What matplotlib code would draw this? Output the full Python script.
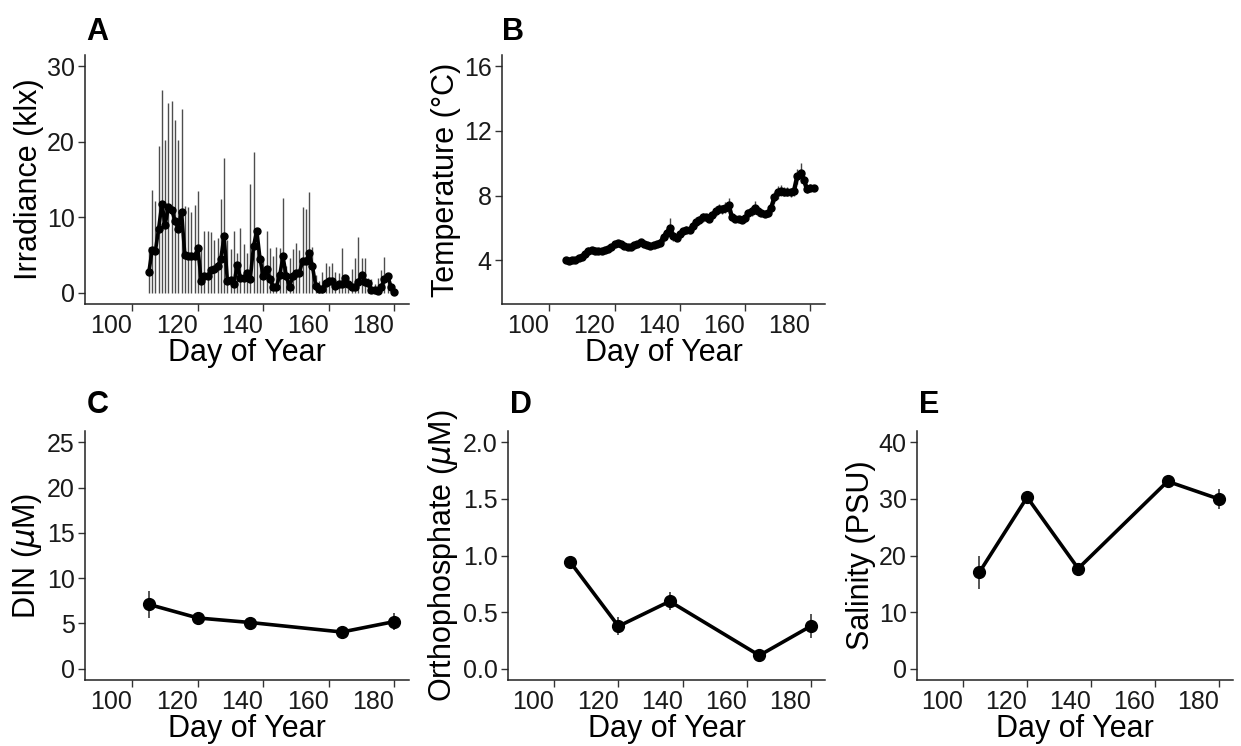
import numpy as np
import matplotlib
matplotlib.use("Agg")
import matplotlib.pyplot as plt

plt.rcParams['font.family'] = ['Liberation Sans', 'DejaVu Sans']
plt.rcParams['mathtext.fontset'] = 'dejavusans'

# irradiance, daily mean and daily max (klx)
irrDays = list(range(105, 181))
irrMean = [2.7, 5.6, 5.5, 8.5, 11.8, 9.0, 11.4, 11.0, 9.5, 8.5,
           10.7, 5.0, 4.8, 4.8, 4.8, 5.9, 1.6, 2.2, 2.2, 3.0,
           3.2, 3.5, 4.5, 7.5, 1.6, 1.7, 1.1, 3.7, 2.0, 1.9,
           2.6, 1.8, 6.2, 8.2, 4.4, 2.2, 3.1, 1.8, 0.8, 0.8,
           2.3, 4.8, 2.2, 0.8, 2.2, 2.6, 2.6, 4.2, 4.2, 5.2,
           3.5, 0.9, 0.5, 0.5, 1.3, 1.5, 1.5, 0.9, 1.1, 1.1,
           2.0, 1.1, 0.8, 0.8, 1.4, 2.4, 1.4, 1.3, 0.4, 0.4,
           0.2, 0.7, 1.8, 2.2, 0.8, 0.1]
irrMax = [6.1, 13.6, 12.1, 19.4, 26.8, 20.3, 25.2, 25.4, 22.9, 20.2,
          24.4, 11.5, 11.3, 10.7, 11.6, 13.5, 5.9, 8.2, 8.2, 8.0,
          7.0, 7.2, 12.4, 17.9, 7.0, 5.8, 8.2, 5.3, 8.6, 6.4,
          5.3, 14.4, 18.7, 8.6, 4.6, 4.4, 8.2, 5.9, 4.8, 6.1,
          5.9, 12.5, 3.5, 4.6, 5.8, 6.6, 5.6, 11.3, 11.1, 13.4,
          6.1, 2.3, 1.5, 2.8, 3.9, 3.5, 3.9, 2.8, 2.6, 5.9,
          2.2, 1.8, 3.1, 4.6, 7.4, 4.6, 4.6, 2.0, 1.8, 1.1,
          2.0, 3.0, 4.7, 1.8, 1.2, 0.3]

# water temperature, daily mean and sd (C)
tempDays = list(range(105, 182))
tempMean = [4.0, 3.97, 4.0, 4.05, 4.15, 4.2, 4.4, 4.6, 4.65, 4.6,
            4.6, 4.6, 4.65, 4.7, 4.8, 5.0, 5.05, 5.0, 4.9, 4.8,
            4.85, 4.95, 5.0, 5.15, 5.0, 4.95, 4.9, 4.95, 5.0, 5.1,
            5.45, 5.7, 6.0, 5.5, 5.4, 5.6, 5.8, 5.9, 5.9, 6.1,
            6.4, 6.5, 6.65, 6.65, 6.55, 6.8, 7.05, 7.2, 7.15, 7.25,
            7.4, 6.65, 6.55, 6.55, 6.5, 6.6, 6.9, 7.05, 7.25, 7.05,
            6.95, 6.85, 6.9, 7.25, 7.9, 8.2, 8.3, 8.25, 8.25, 8.2,
            8.3, 9.2, 9.4, 9.0, 8.4, 8.5, 8.5]
tempSd = [0.1, 0.1, 0.15, 0.15, 0.2, 0.2, 0.25, 0.25, 0.2, 0.2,
          0.15, 0.15, 0.15, 0.2, 0.2, 0.2, 0.15, 0.15, 0.15, 0.15,
          0.15, 0.15, 0.2, 0.2, 0.15, 0.15, 0.15, 0.15, 0.15, 0.2,
          0.3, 0.3, 0.6, 0.3, 0.2, 0.2, 0.2, 0.2, 0.2, 0.25,
          0.25, 0.25, 0.25, 0.2, 0.2, 0.25, 0.3, 0.3, 0.3, 0.35,
          0.45, 0.2, 0.15, 0.15, 0.15, 0.2, 0.25, 0.3, 0.4, 0.3,
          0.2, 0.2, 0.2, 0.3, 0.35, 0.4, 0.35, 0.3, 0.3, 0.3,
          0.3, 0.45, 0.6, 0.4, 0.25, 0.2, 0.15]

# nutrient / salinity sampling days
sampleDays = [105, 120, 136, 164, 180]
dinMean = [7.1, 5.6, 5.1, 4.05, 5.2]
dinSd = [1.5, 0.3, 0.2, 0.3, 0.9]
phosMean = [0.94, 0.375, 0.595, 0.117, 0.375]
phosSd = [0.05, 0.08, 0.08, 0.03, 0.105]
salMean = [17.0, 30.3, 17.7, 33.1, 30.0]
salSd = [3.0, 0.5, 1.0, 0.3, 1.8]

xTicks = [100, 120, 140, 160, 180]

W, H = 1241, 746


def pixelRect(left, right, top, bottom):
    return [left / W, 1 - bottom / H, (right - left) / W, (bottom - top) / H]


def styleAxes(ax, ylabel, yticks, ylim, yticklabels=None):
    for side in ['top', 'right']:
        ax.spines[side].set_visible(False)
    for side in ['left', 'bottom']:
        ax.spines[side].set_linewidth(1.1)
        ax.spines[side].set_color('#222222')
    ax.set_xlim(85.5, 184.5)
    ax.set_ylim(*ylim)
    ax.set_xticks(xTicks)
    ax.set_xticklabels([str(t) for t in xTicks], ha='right')
    ax.set_yticks(yticks)
    if yticklabels is not None:
        ax.set_yticklabels(yticklabels)
    ax.tick_params(axis='both', labelsize=18, length=5, width=1.0,
                   color='#333333', labelcolor='#1a1a1a', pad=2.5)
    ax.set_xlabel('Day of Year', fontsize=22, labelpad=0, color='black')
    ax.set_ylabel(ylabel, fontsize=22, labelpad=2, color='black')


def samplePanel(ax, mean, sd):
    ax.errorbar(sampleDays, mean, yerr=sd, fmt='none', ecolor='#555555',
                elinewidth=1.4, capsize=0, zorder=2)
    ax.plot(sampleDays, mean, color='black', lw=2.6, marker='o',
            markersize=8.5, zorder=3)


fig = plt.figure(figsize=(W / 100, H / 100), dpi=100)

# A - irradiance, bars run from 0 to the daily max
axA = fig.add_axes(pixelRect(85, 409, 55, 304))
axA.vlines(irrDays, 0, irrMax, colors='#4d4d4d', linewidth=1.0, zorder=2)
axA.plot(irrDays, irrMean, color='black', lw=2.6, marker='o',
         markersize=5, zorder=3)
styleAxes(axA, 'Irradiance (klx)', [0, 10, 20, 30], (-1.5, 31.5))

# B - temperature
axB = fig.add_axes(pixelRect(502, 825, 55, 304))
axB.errorbar(tempDays, tempMean, yerr=tempSd, fmt='none', ecolor='#444444',
             elinewidth=1.0, capsize=0, zorder=2)
axB.plot(tempDays, tempMean, color='black', lw=3.2, marker='o',
         markersize=5, zorder=3)
styleAxes(axB, 'Temperature (°C)', [4, 8, 12, 16], (1.3, 16.7))

# C - DIN
axC = fig.add_axes(pixelRect(85, 409, 431, 680))
samplePanel(axC, dinMean, dinSd)
styleAxes(axC, 'DIN ($\\mu$M)', [0, 5, 10, 15, 20, 25], (-1.25, 26.25))

# D - orthophosphate
axD = fig.add_axes(pixelRect(508, 825, 431, 680))
samplePanel(axD, phosMean, phosSd)
styleAxes(axD, 'Orthophosphate ($\\mu$M)', [0, 0.5, 1.0, 1.5, 2.0],
          (-0.1, 2.1), ['0.0', '0.5', '1.0', '1.5', '2.0'])

# E - salinity
axE = fig.add_axes(pixelRect(917, 1233, 431, 680))
samplePanel(axE, salMean, salSd)
styleAxes(axE, 'Salinity (PSU)', [0, 10, 20, 30, 40], (-2, 42))

panelLetters = [('A', 86, 32), ('B', 502, 32), ('C', 87, 405),
                ('D', 510, 405), ('E', 919, 405)]
for letter, px, py in panelLetters:
    fig.text(px / W, 1 - py / H, letter, fontsize=22, fontweight='bold',
             ha='left', va='center')

fig.savefig('out.png', dpi=100)
